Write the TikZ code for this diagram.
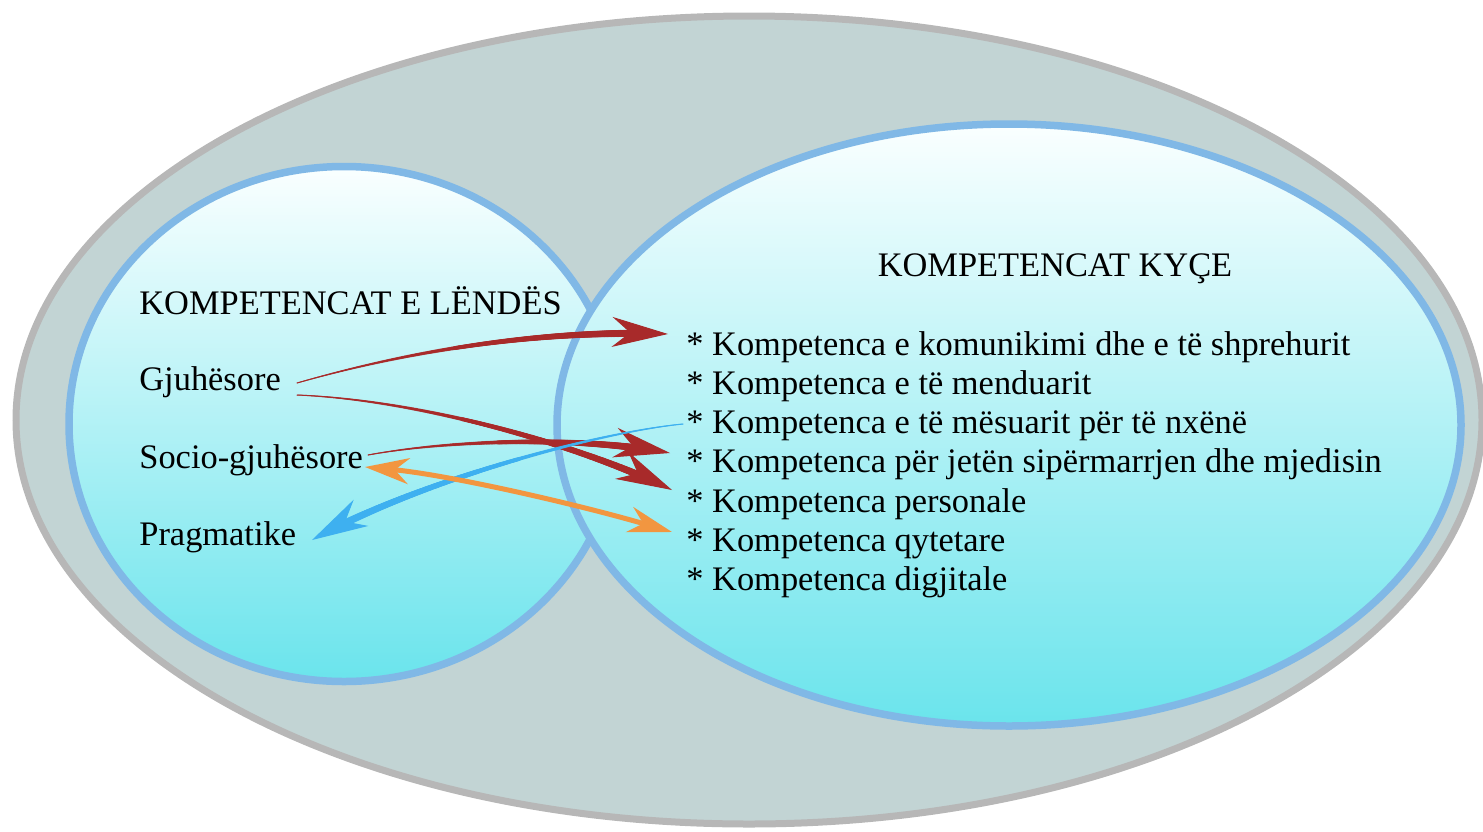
\documentclass[tikz,border=0pt]{standalone}
\usepackage{fontspec}
\setmainfont{Liberation Serif}
\usetikzlibrary{arrows.meta,decorations.markings}
\definecolor{outerfill}{RGB}{194,212,212}
\definecolor{outerline}{RGB}{183,183,183}
\definecolor{blueline}{RGB}{128,184,230}
\definecolor{topc}{RGB}{250,255,255}
\definecolor{botc}{RGB}{106,228,236}
\definecolor{redar}{RGB}{168,42,42}
\definecolor{bluear}{RGB}{62,176,240}
\definecolor{orangear}{RGB}{242,150,64}
\tikzset{
  txt/.style={inner sep=0pt, anchor=base west, font=\fontsize{17.2}{20}\selectfont, text=black},
  bubble/.style={draw=blueline, line width=3.75pt, top color=topc, bottom color=botc},
  tapered/.style={draw=#1, line width=0.5pt, -{Stealth[length=28pt,width=15pt,inset=9pt]},
    postaction={decorate, decoration={markings,
      mark=between positions 0 and -21pt step 0.4pt with {%
        \pgfmathsetmacro\rr{0.25+1.75*\pgfkeysvalueof{/pgf/decoration/mark info/distance from start}/\pgfdecoratedpathlength}%
        \fill[#1] (0,0) circle[radius=\rr pt];}}}},
  twoway/.style={draw=orangear, line width=2.5pt, {Stealth[length=22pt,width=13pt,inset=7pt]}-{Stealth[length=22pt,width=13pt,inset=7pt]}},
}
\begin{document}
\begin{tikzpicture}[x=0.5pt,y=-0.5pt]
\useasboundingbox (0,0) rectangle (1483,831);
% shapes
\draw[draw=outerline, fill=outerfill, line width=3.5pt] (749,420) ellipse [x radius=733, y radius=404];
\draw[bubble] (344,424) ellipse [x radius=275, y radius=257.5];
\draw[bubble] (1009,425) ellipse [x radius=452, y radius=301];
% texts
\node[txt] (lt) at (139,314) {KOMPETENCAT E LËNDËS};
\node[txt] (gj) at (139,390) {Gjuhësore};
\node[txt] (sg) at (139,468) {Socio-gjuhësore};
\node[txt] (pr) at (139,545) {Pragmatike};
\node[txt, anchor=base] (rt) at (1055,276) {KOMPETENCAT KYÇE};
\node[txt] (k1) at (686,355) {* Kompetenca e komunikimi dhe e të shprehurit};
\node[txt] (k2) at (686,394.3) {* Kompetenca e të menduarit};
\node[txt] (k3) at (686,433.6) {* Kompetenca e të mësuarit për të nxënë};
\node[txt] (k4) at (686,472.9) {* Kompetenca për jetën sipërmarrjen dhe mjedisin};
\node[txt] (k5) at (686,512.2) {* Kompetenca personale};
\node[txt] (k6) at (686,551.5) {* Kompetenca qytetare};
\node[txt] (k7) at (686,590.8) {* Kompetenca digjitale};
% arrow end points
\coordinate (gjA) at (297,383);
\coordinate (gjB) at (297,395);
\coordinate (sgA) at (368,455);
\coordinate (sgB) at (365,467);
\coordinate (prA) at (312,540);
\coordinate (k1A) at (668,334);
\coordinate (k3A) at (683,424);
\coordinate (k4A) at (670,453);
\coordinate (k5A) at (672,490);
\coordinate (k6A) at (672,532);
% arrows
\draw[tapered=redar] (gjA) .. controls (430,345) and (560,330) .. (k1A);
\draw[tapered=redar] (gjB) .. controls (420,400) and (580,445) .. (k5A);
\draw[tapered=redar] (sgA) .. controls (450,440) and (580,436) .. (k4A);
\draw[tapered=bluear] (k3A) .. controls (600,432) and (420,480) .. (prA);
\draw[twoway] (sgB) .. controls (450,475) and (580,505) .. (k6A);
\end{tikzpicture}
\end{document}
